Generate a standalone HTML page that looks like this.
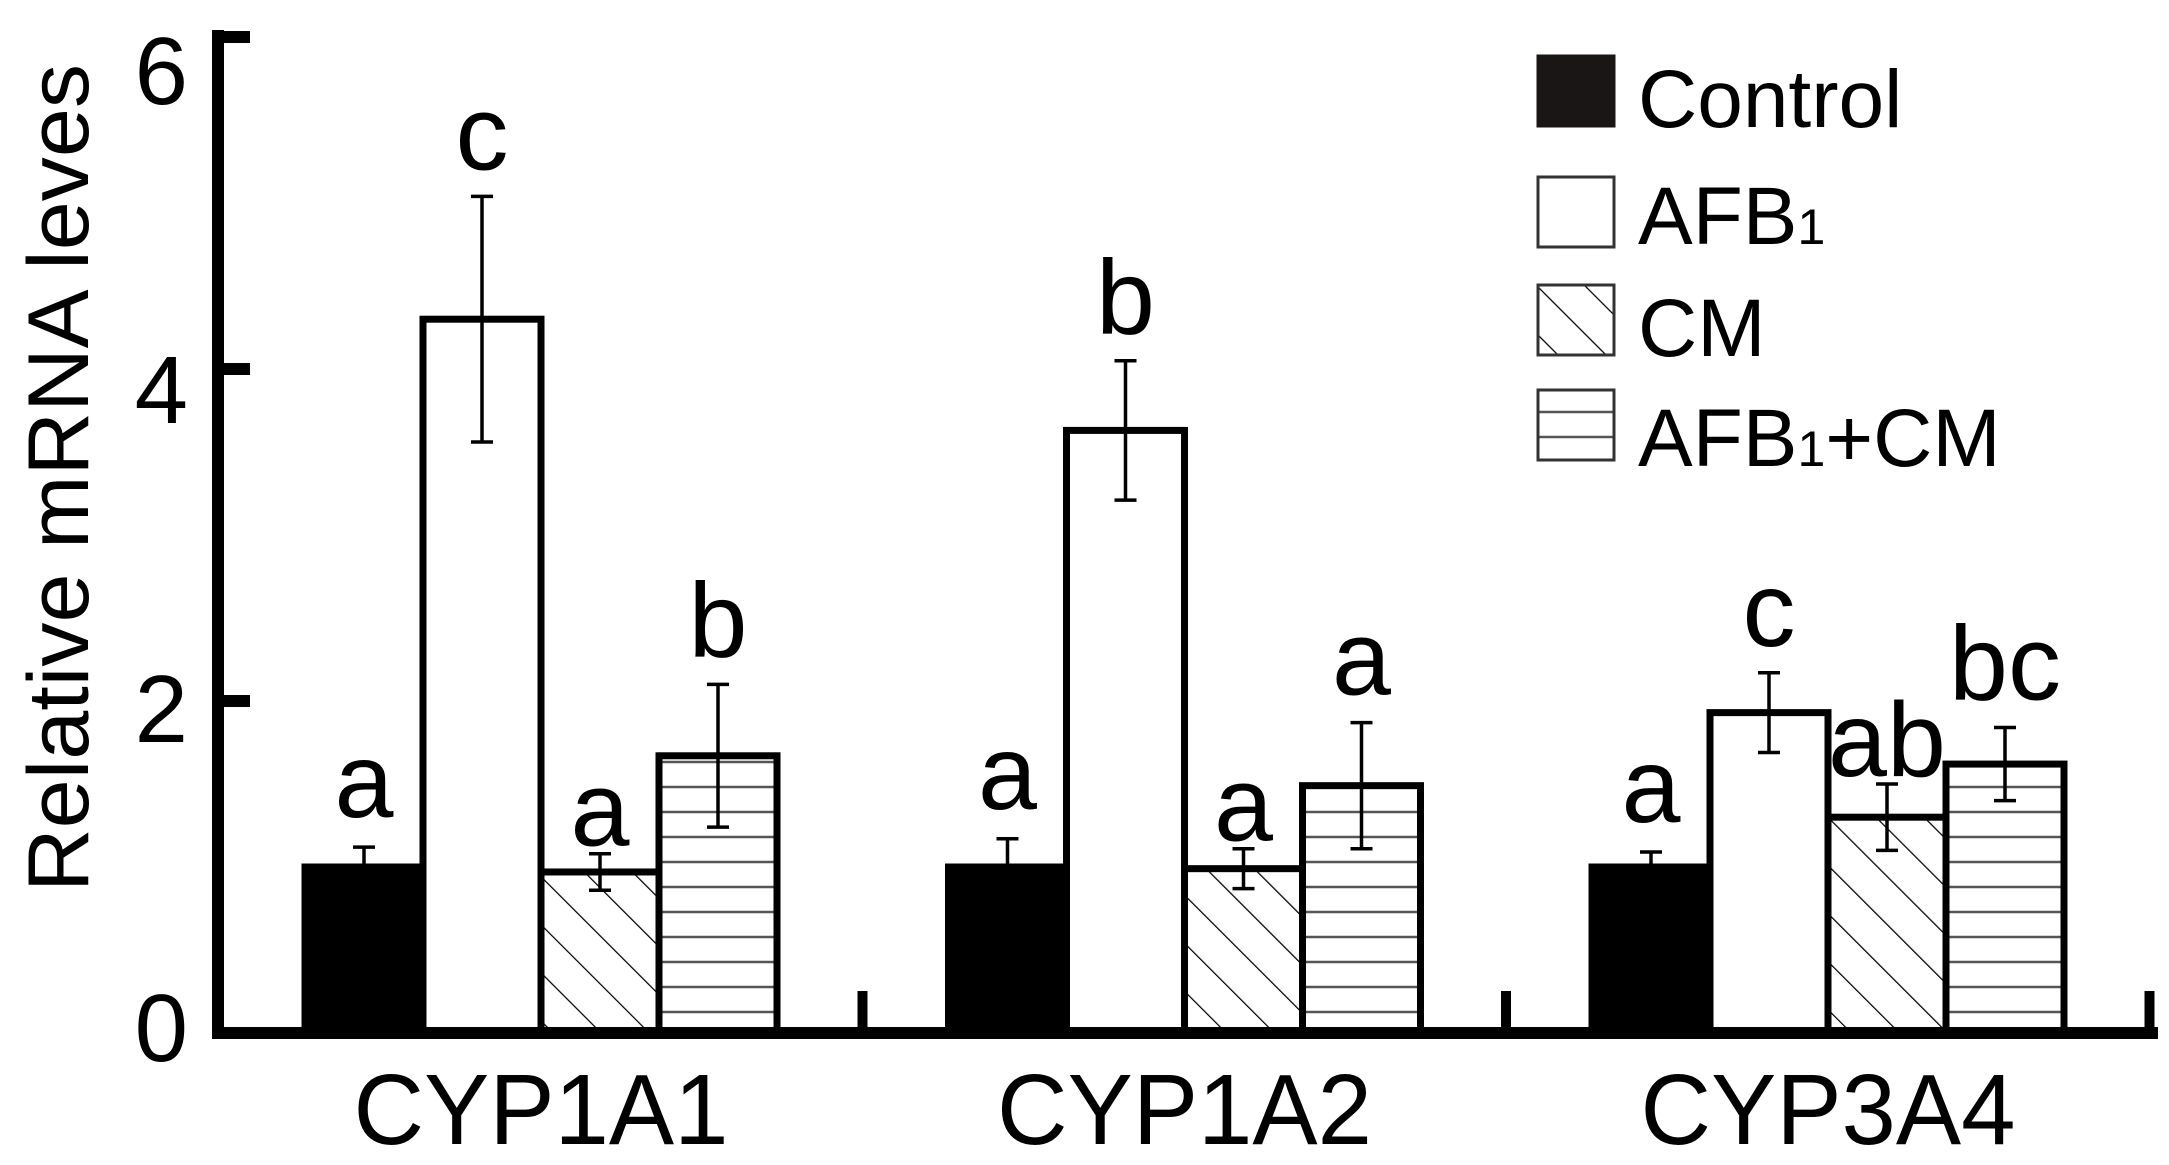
<!DOCTYPE html>
<html><head><meta charset="utf-8"><style>
html,body{margin:0;padding:0;background:#fff;}
svg{display:block;}
text{font-family:"Liberation Sans",sans-serif;fill:#000;}
</style></head><body>
<svg id="chart" width="2169" height="1165" viewBox="0 0 2169 1165" xmlns="http://www.w3.org/2000/svg">
<defs>
<pattern id="diag" patternUnits="userSpaceOnUse" width="34" height="34" patternTransform="rotate(-45)">
<rect width="34" height="34" fill="#fff"/><line x1="0" y1="0" x2="0" y2="34" stroke="#000" stroke-width="2.5"/>
</pattern>
<pattern id="horiz" patternUnits="userSpaceOnUse" width="20" height="25" y="0">
<rect width="20" height="25" fill="#fff"/><line x1="0" y1="12" x2="20" y2="12" stroke="#555" stroke-width="2.5"/>
</pattern>
</defs>
<g id="plot"></g>
</svg>
<script>
const categories = ["CYP1A1","CYP1A2","CYP3A4"];
const seriesNames = ["Control","AFB1","CM","AFB1+CM"];
const controlVals = [1.0, 1.0, 1.0];
const afb1Vals = [4.3, 3.63, 1.93];
const cmVals = [0.97, 0.99, 1.30];
const afbcmVals = [1.67, 1.49, 1.62];
const controlErr = [0.12, 0.17, 0.09];
const afb1Err = [0.74, 0.42, 0.24];
const cmErr = [0.11, 0.12, 0.20];
const afbcmErr = [0.43, 0.38, 0.22];
const controlLetters = ["a","a","a"];
const afb1Letters = ["c","b","c"];
const cmLetters = ["a","a","ab"];
const afbcmLetters = ["b","a","bc"];
const yTicks = [0,2,4,6];

const NS="http://www.w3.org/2000/svg";
const g=document.getElementById('plot');
const y0=1033, unit=166;
const yS=v=>y0-v*unit;
const groupStart=i=>305+i*643.5;
const barW=118;
const xBar=(i,s)=>groupStart(i)+s*barW;
function mk(tag,attrs,parent){const e=document.createElementNS(NS,tag);for(const k in attrs)e.setAttribute(k,attrs[k]);(parent||g).appendChild(e);return e;}

const vals=[controlVals,afb1Vals,cmVals,afbcmVals];
const errs=[controlErr,afb1Err,cmErr,afbcmErr];
const letters=[controlLetters,afb1Letters,cmLetters,afbcmLetters];
const fills=["#000","#fff","url(#diag)","url(#horiz)"];
const labelOff=[-30,-27,-8,-28];
const barNames=["control","afb1","cm","afb1-cm"];

for(let i=0;i<categories.length;i++){
  for(let s=0;s<4;s++){
    const v=vals[s][i], x=xBar(i,s), top=yS(v);
    const r=mk('rect',{x:x,y:top,width:barW,height:y0-top,fill:fills[s],stroke:'#000','stroke-width':7});
    
    
    const cx=x+barW/2, e=errs[s][i];
    const eb=mk('path',{d:`M${cx},${yS(v+e)}V${yS(v-e)}M${cx-11},${yS(v+e)}H${cx+11}M${cx-11},${yS(v-e)}H${cx+11}`,stroke:'#000','stroke-width':3.5,fill:'none'});
    
    
    const t=mk('text',{x:cx,y:yS(v+e)+labelOff[s],'text-anchor':'middle','font-size':106});
    t.textContent=letters[s][i];
    
    
  }
  const xl=mk('text',{x:groupStart(i)+236,y:1144,'text-anchor':'middle','font-size':100,textLength:375,lengthAdjust:'spacingAndGlyphs'});
  xl.textContent=categories[i];
  
  
}
const ax=mk('path',{d:`M218,30V${y0}H2158`,stroke:'#000','stroke-width':12,fill:'none'});


for(const v of yTicks){
  const tk=mk('line',{x1:218,x2:250,y1:yS(v),y2:yS(v),stroke:'#000','stroke-width':12});
  
  
  const tl=mk('text',{x:188,y:yS(v)+28+v*6.5,'text-anchor':'end','font-size':96});
  tl.textContent=v;
  
  
}
for(let i=1;i<=3;i++){
  const xt=groupStart(i)-86;
  const tk=mk('line',{x1:xt,x2:xt,y1:y0,y2:y0-42,stroke:'#000','stroke-width':10});
  
  
}
const yt=mk('text',{x:0,y:0,'text-anchor':'middle','font-size':86,textLength:828,lengthAdjust:'spacingAndGlyphs',transform:'translate(88,478) rotate(-90)'});
yt.textContent='Relative mRNA leves';


const lg=mk('g',{});


const boxY=[56,177,285,390], textY=[127,244,356,466];
const legLabels=[["Control",""],["AFB","1"],["CM",""],["AFB","1","+CM"]];
for(let s=0;s<4;s++){
  const b=mk('rect',{x:1538,y:boxY[s],width:76,height:70,fill:s==0?'#1a1616':fills[s],stroke:s==0?'#1a1616':'#333','stroke-width':3},lg);
  
  
  const t=mk('text',{x:1638,y:textY[s],'font-size':82},lg);
  
  
  const p=legLabels[s];
  t.appendChild(document.createTextNode(p[0]));
  if(p[1]){const ts=mk('tspan',{'font-size':50},t);ts.textContent=p[1];}
  if(p[2]){const ts=mk('tspan',{'font-size':82},t);ts.textContent=p[2];}
}
</script>
</body></html>
